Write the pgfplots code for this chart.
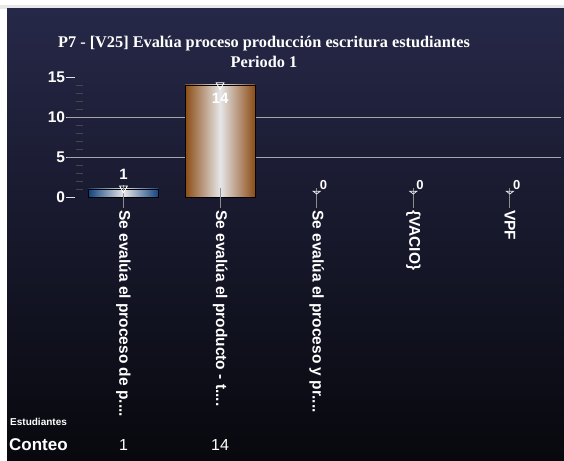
\documentclass[border=0pt]{standalone}
\usepackage{pgfplots}
\pgfplotsset{compat=1.18}
\usepackage{fontspec}
\setmainfont{Liberation Sans}
\newfontfamily\serifb{Liberation Serif}
\newcommand{\tdots}{....}
\definecolor{bgtop}{RGB}{38,40,72}
\definecolor{bgbot}{RGB}{8,8,14}
\definecolor{blueedge}{RGB}{18,68,128}
\definecolor{brownedge}{RGB}{140,76,22}
\definecolor{barmid}{RGB}{230,230,232}
\definecolor{gridc}{RGB}{165,165,170}
\definecolor{whisk}{RGB}{140,140,145}
\definecolor{minortk}{RGB}{70,70,78}
\begin{document}
\begin{tikzpicture}[x=1pt,y=1pt]
\fill[white] (0,0) rectangle (564,460);
\fill[black!9] (0,451) rectangle (564,455);
\shade[top color=bgtop, bottom color=bgbot] (7,0) rectangle (564,451);
\node[font=\serifb\bfseries\fontsize{16.3}{20}\selectfont, text=white, align=center] at (264,408) {P7 - [V25] Evalúa proceso producción escritura estudiantes\\Periodo 1};
\begin{axis}[at={(123.5pt,263pt)}, anchor=origin, scale only axis,
  width=483pt, height=131pt,
  xmin=-0.5, xmax=4.5, ymin=-1.375, ymax=15,
  clip=false,
  axis line style={draw=none},
  axis x line*=bottom, axis y line*=left,
  xtick={0,1,2,3,4},
  xticklabels={{Se evalúa el proceso de p\tdots}, {Se evalúa el producto - t\tdots}, {Se evalúa el proceso y pr\tdots}, {\{VACIO\}}, {VPF}},
  x tick style={draw=none},
  xticklabel style={yshift=7pt, rotate=-90, anchor=west, inner sep=0pt, text=white, font=\bfseries\fontsize{15.5}{17}\selectfont},
  ytick={0,5,10,15},
  minor ytick={1,2,3,4,6,7,8,9,11,12,13,14},
  y tick style={draw=white!75!gray, line width=0.8pt},
  minor y tick style={draw=minortk, line width=0.8pt, xshift=8pt},
  major tick length=9pt, minor tick length=7pt,
  tick align=outside,
  yticklabel style={text=white, font=\bfseries\fontsize{15.5}{17}\selectfont, inner sep=1pt, /pgf/number format/assume math mode=true},
]
\addplot[gridc, line width=0.8pt, forget plot] coordinates {(-0.58,5) (4.53,5)};
\addplot[gridc, line width=0.8pt, forget plot] coordinates {(-0.58,10) (4.53,10)};
\addplot[ybar, bar width=70pt, bar shift=0pt, draw=black, line width=0.6pt,
  left color=blueedge, right color=blueedge, middle color=barmid] coordinates {(0,1)};
\addplot[ybar, bar width=70pt, bar shift=0pt, draw=black, line width=0.6pt,
  left color=brownedge, right color=brownedge, middle color=barmid] coordinates {(1,14)};
\addplot[whisk, line width=0.9pt] coordinates {(0,-1.375) (0,1.5)};
\addplot[whisk, line width=0.9pt] coordinates {(1,-1.375) (1,1.1)};
\addplot[whisk, line width=0.9pt] coordinates {(2,-1.375) (2,1.1)};
\addplot[whisk, line width=0.9pt] coordinates {(3,-1.375) (3,1.1)};
\addplot[whisk, line width=0.9pt] coordinates {(4,-1.375) (4,1.1)};
\addplot[only marks, mark=triangle, mark size=4.5pt, mark options={rotate=180, draw=white, fill=none, line width=0.8pt}] coordinates {(0,1.1) (1,14)};
\addplot[only marks, mark=triangle, mark size=4pt, mark options={rotate=180, yscale=0.45, draw=white!80!gray, fill=none, line width=0.8pt}] coordinates {(2,0.6) (3,0.6) (4,0.6)};
\node[text=white, font=\bfseries\fontsize{15}{17}\selectfont] at (axis cs:0,2.85) {1};
\node[text=white, font=\bfseries\fontsize{15}{17}\selectfont] at (axis cs:1,12.3) {14};
\node[text=white, font=\bfseries\fontsize{13}{15}\selectfont] at (axis cs:2.07,1.5) {0};
\node[text=white, font=\bfseries\fontsize{13}{15}\selectfont] at (axis cs:3.07,1.5) {0};
\node[text=white, font=\bfseries\fontsize{13}{15}\selectfont] at (axis cs:4.07,1.5) {0};
\end{axis}
\node[anchor=west, text=white, font=\bfseries\fontsize{10}{12}\selectfont, inner sep=0pt] at (10,38) {Estudiantes};
\node[anchor=west, text=white, font=\bfseries\fontsize{17}{19}\selectfont, inner sep=0pt] at (9,15) {Conteo};
\node[text=white, font=\fontsize{16}{18}\selectfont] at (123.5,15) {1};
\node[text=white, font=\fontsize{16}{18}\selectfont] at (220,15) {14};
\end{tikzpicture}
\end{document}
